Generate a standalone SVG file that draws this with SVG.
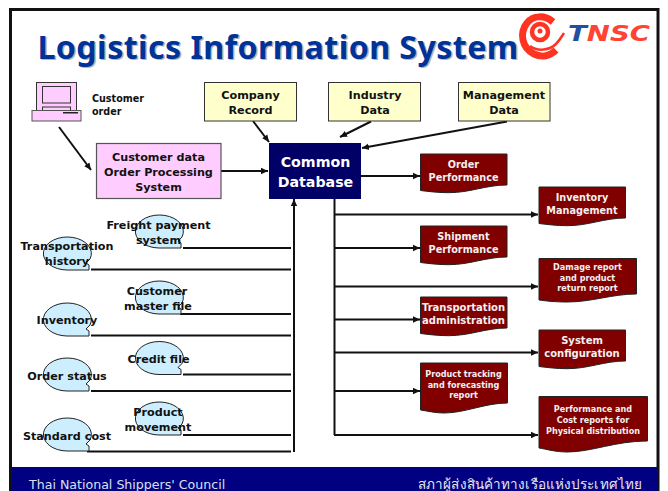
<svg xmlns="http://www.w3.org/2000/svg" width="668" height="491" viewBox="0 0 668 491">
<style>
text{font-family:"DejaVu Sans","Noto Sans",sans-serif;font-weight:700;text-anchor:middle;fill:#111}
.t{font-family:"Noto Sans","Open Sans",sans-serif;font-size:32.200px;letter-spacing:0.400px}
.y{fill:#ffffcc;stroke:#333;stroke-width:1}
.p{fill:#ffccff;stroke:#555;stroke-width:1.2}
.o{fill:#cceeff;stroke:#222;stroke-width:1}
.d{fill:#800000;stroke:#222;stroke-width:1}
.s{font-size:11.200px}
.b{font-size:11.200px}
.w{fill:#f4f0f0;font-size:9.700px}
.w2{fill:#f4f0f0;font-size:8.100px}
.w3{fill:#f4f0f0;font-size:10px}
.c{fill:none;stroke:#111;stroke-width:2}
.a{marker-end:url(#ah)}
</style>
<defs>
<marker id="ah" markerUnits="userSpaceOnUse" markerWidth="8" markerHeight="8" refX="7" refY="4" orient="auto"><path d="M0 0.8L7 4L0 7.2z" fill="#111"/></marker>
<path id="oval" d="M24 33H46V28L43 26L47 22A24 16.500 0 1 0 24 33z"/>
<path id="doc" d="M0 0H86.500V31C65 31 50 38.700 28 38.700C18 38.700 8 37.500 0 36.500z"/>
</defs>
<rect width="668" height="491" fill="#fff"/>
<rect x="10.500" y="9.500" width="647.500" height="490" fill="#fff" stroke="#111" stroke-width="3"/>
<rect x="12" y="467" width="645" height="24" fill="#000080"/>
<g id="title">
<text class="t" x="279.500" y="60" style="fill:#b4b4b4">Logistics Information System</text>
<text class="t" x="278" y="58.500" style="fill:#003399">Logistics Information System</text>
</g>
<g id="logo" fill="none" stroke="#ff3322">
<path d="M553 22C545 15 533 15 527 23C519 33 522 48 534 54C542 58 550 56 556 50" stroke-width="7"/>
<circle cx="540" cy="32" r="8" stroke-width="4.500"/>
<circle cx="540" cy="31" r="2.500" fill="#ff3322" stroke="none"/>
<path d="M530 46C538 52 550 50 556 44C560 40 562 36 564 33" stroke-width="2.500"/>
<text x="609" y="41" font-size="21" font-style="italic" textLength="82" lengthAdjust="spacingAndGlyphs" stroke="none" style="fill:#ff4433"><tspan style="fill:#224fa0">T</tspan>NSC</text>
</g>
<g id="connectors">
<path class="c a" d="M59 127L91 170"/>
<path class="c a" d="M221 171H268"/>
<path class="c a" d="M253 121L269 142"/>
<path class="c a" d="M371 121.500L340 137"/>
<path class="c a" d="M507 121.500L362 148"/>
<path class="c a" d="M361 176H420"/>
<path class="c" d="M334.500 199V435"/>
<path class="c a" d="M334 214.500H538"/>
<path class="c a" d="M334 248H420"/>
<path class="c a" d="M334 286.500H538"/>
<path class="c a" d="M334 319.500H420"/>
<path class="c a" d="M334 352.500H538"/>
<path class="c a" d="M334 391H420"/>
<path class="c a" d="M334 435H538"/>
<path class="c a" d="M294 452V199"/>
<path class="c" d="M183 248H291M91 269.500H291M180 314H291M91 335.500H291M183 374.500H291M91 391H291M183 435H291M87 451.500H291"/>
</g>
<g id="computer">
<rect x="36.500" y="82.500" width="40" height="28" fill="#ffccff" stroke="#333"/>
<rect x="42.500" y="86.500" width="28" height="16.500" fill="#ffccff" stroke="#333"/>
<rect x="42.500" y="107" width="28" height="3.500" fill="#ffccff" stroke="#333"/>
<rect x="32" y="110.500" width="49" height="10.500" fill="#ffccff" stroke="#555"/>
<rect x="63" y="112" width="15" height="1.500" fill="#222"/>
<text x="92" y="102" style="text-anchor:start;font-size:9.600px">Customer</text>
<text x="92" y="115" style="text-anchor:start;font-size:9.600px">order</text>
</g>
<g id="company-record"><rect class="y" x="204.500" y="82.500" width="92" height="38.500"/><text class="b" x="250.500" y="99">Company</text><text class="b" x="250.500" y="114">Record</text></g>
<g id="industry-data"><rect class="y" x="328.500" y="82.500" width="92" height="38.500"/><text class="b" x="375" y="99">Industry</text><text class="b" x="375" y="114">Data</text></g>
<g id="management-data"><rect class="y" x="458.500" y="82.500" width="91.500" height="38.500"/><text class="b" x="504" y="99">Management</text><text class="b" x="504" y="114">Data</text></g>
<g id="order-processing"><rect class="p" x="96.500" y="143.500" width="124.500" height="55"/><text class="b" x="158.500" y="161">Customer data</text><text class="b" x="158.500" y="176">Order Processing</text><text class="b" x="158.500" y="191">System</text></g>
<g id="common-database"><rect x="269" y="143" width="92" height="56" fill="#000066"/><text x="315.500" y="167" font-size="14.200" style="fill:#fff">Common</text><text x="315.500" y="187" font-size="14.200" style="fill:#fff">Database</text></g>
<g id="freight"><use href="#oval" class="o" x="135" y="215"/><text class="s" x="158.500" y="229">Freight payment</text><text class="s" x="158.500" y="244">system</text></g>
<g id="transportation-history"><use href="#oval" class="o" x="43" y="237"/><text class="s" x="67" y="250">Transportation</text><text class="s" x="67" y="265">history</text></g>
<g id="customer-master"><use href="#oval" class="o" x="135" y="281"/><text class="s" x="157" y="295">Customer</text><text class="s" x="158" y="310">master file</text></g>
<g id="inventory"><use href="#oval" class="o" x="43" y="303"/><text class="s" x="67" y="324">Inventory</text></g>
<g id="credit-file"><use href="#oval" class="o" x="135" y="341.500"/><text class="s" x="158.500" y="363">Credit file</text></g>
<g id="order-status"><use href="#oval" class="o" x="43" y="358"/><text class="s" x="67" y="380">Order status</text></g>
<g id="product-movement"><use href="#oval" class="o" x="135" y="402"/><text class="s" x="158" y="416">Product</text><text class="s" x="158" y="431">movement</text></g>
<g id="standard-cost"><use href="#oval" class="o" x="43" y="418"/><text class="s" x="67" y="440">Standard cost</text></g>
<g id="order-performance"><use href="#doc" class="d" x="420.500" y="154"/><text class="w" x="463.500" y="168">Order</text><text class="w" x="463.500" y="181">Performance</text></g>
<g id="inventory-management"><use href="#doc" class="d" x="539" y="187"/><text class="w" x="582" y="201">Inventory</text><text class="w" x="582" y="214">Management</text></g>
<g id="shipment-performance"><use href="#doc" class="d" x="420.500" y="226"/><text class="w" x="463.500" y="240">Shipment</text><text class="w" x="463.500" y="253">Performance</text></g>
<g id="damage-report"><path class="d" d="M539 258.500H636.500V294C612 294 592 302 567 302C555 302 546 301 539 300z"/><text class="w2" x="587.500" y="270">Damage report</text><text class="w2" x="587.500" y="281">and product</text><text class="w2" x="587.500" y="291">return report</text></g>
<g id="transportation-administration"><use href="#doc" class="d" x="420.500" y="297"/><text class="w3" x="463.500" y="311">Transportation</text><text class="w3" x="463.500" y="324">administration</text></g>
<g id="system-configuration"><use href="#doc" class="d" x="539" y="330"/><text class="w3" x="582" y="344">System</text><text class="w3" x="582" y="357">configuration</text></g>
<g id="product-tracking"><path class="d" d="M420.500 363H507.500V403C485 403 465 413 444 413C435 413 428 411 420.500 410z"/><text class="w2" x="463.500" y="377">Product tracking</text><text class="w2" x="463.500" y="388">and forecasting</text><text class="w2" x="463.500" y="398">report</text></g>
<g id="performance-cost"><path class="d" d="M539 396.500H647.500V441C615 441 592 452 567 452C555 452 546 449 539 448z"/><text class="w2" x="593" y="412">Performance and</text><text class="w2" x="593" y="423">Cost reports for</text><text class="w2" x="593" y="434">Physical distribution</text></g>
<g id="footer">
<text x="29" y="489" font-size="12.600" style="text-anchor:start;font-weight:400;fill:#d8e0f0">Thai National Shippers' Council</text>
<text x="418" y="489" font-size="13.500" textLength="224" style="text-anchor:start;font-weight:400;fill:#e8e8f0">สภาผู้ส่งสินค้าทางเรือแห่งประเทศไทย</text>
</g>
</svg>
